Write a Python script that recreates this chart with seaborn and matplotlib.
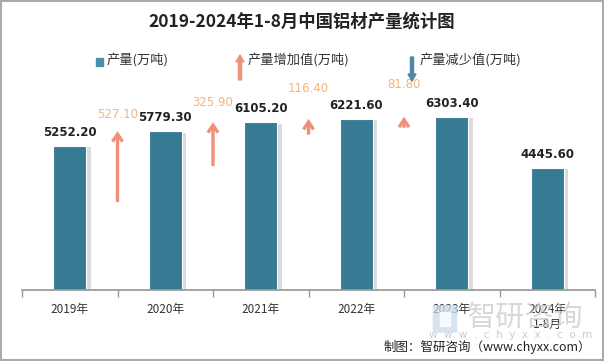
import matplotlib
matplotlib.use('Agg')
import matplotlib.pyplot as plt
import matplotlib.patheffects as pe
import numpy as np
import pandas as pd
import seaborn as sns

# Données du graphique
annees = ['2019年', '2020年', '2021年', '2022年', '2023年', '2024年\n1-8月']
production = [5252.20, 5779.30, 6105.20, 6221.60, 6303.40, 4445.60]
hausse = [527.10, 325.90, 116.40, 81.80]

sns.set_theme(style='white')
plt.rcParams['font.family'] = ['Noto Sans CJK SC', 'DejaVu Sans']

BAR = '#367b93'
UP = '#f0907a'
UP_TXT = '#f4b47a'
DOWN = '#4f88a6'
ARROW_SCALE = 4.9  # les flèches utilisent une échelle secondaire
decalage_etiquettes = [7.5, 9.5, 17.5, 18.5]  # points au-dessus des flèches

fig = plt.figure(figsize=(6.04, 3.61), dpi=100)
ax = fig.add_axes([22 / 604, 1 - 290 / 361, 573 / 604, 210 / 361])

df = pd.DataFrame({'annee': annees, 'production': production})
sns.barplot(data=df, x='annee', y='production', color=BAR, width=0.35,
            saturation=1, edgecolor='white', linewidth=0.8, ax=ax)
for p in ax.patches:
    p.set_path_effects([pe.SimplePatchShadow(offset=(3, -1), shadow_rgbFace='#999999',
                                             alpha=0.35), pe.Normal()])

ax.set_ylim(0, 7639)
ax.set_xlim(-0.5, len(annees) - 0.5)

# étiquettes des barres
for i, v in enumerate(production):
    ax.annotate(f'{v:.2f}', (i, v), xytext=(0, 5), textcoords='offset points',
                ha='center', va='bottom', fontsize=8.5, color='#222222',
                fontweight='bold', family='DejaVu Sans')

# flèches d'augmentation entre les barres
for i, d in enumerate(hausse):
    haut = production[i + 1]
    bas = haut - d * ARROW_SCALE
    ax.annotate('', xy=(i + 0.5, haut), xytext=(i + 0.5, bas),
                arrowprops=dict(arrowstyle='->,head_length=0.45,head_width=0.3',
                                color=UP, lw=2.4, shrinkA=0, shrinkB=0,
                                joinstyle='miter', capstyle='butt'),
                annotation_clip=False)
    ax.annotate(f'{d:.2f}', (i + 0.5, haut), xytext=(0, decalage_etiquettes[i]),
                textcoords='offset points', ha='center', va='bottom', fontsize=8.5,
                color=UP_TXT, family='DejaVu Sans', annotation_clip=False)

# axes
sns.despine(ax=ax, left=True)
ax.spines['bottom'].set_color('#999999')
ax.set_yticks([])
ax.set_xticks(np.arange(-0.5, len(annees), 1), minor=True)
ax.tick_params(axis='x', which='minor', length=5, color='#999999', direction='out', bottom=True)
ax.tick_params(axis='x', which='major', length=0, labelsize=8.5, labelcolor='#333333', pad=9)
ax.set_xlabel('')
ax.set_ylabel('')

# titre
fig.text(0.5, 1 - 22 / 361, '2019-2024年1-8月中国铝材产量统计图', ha='center', va='center',
         fontsize=12.5, fontweight='bold', color='#222222')

# légende
ly = 1 - 61 / 361
fig.patches.append(plt.Rectangle((96 / 604, 1 - 66 / 361), 7 / 604, 8 / 361,
                                 transform=fig.transFigure, color='#4a8fa8'))
fig.text(107 / 604, ly, '产量(万吨)', va='center', fontsize=9.5, color='#333333')
fig.patches.append(matplotlib.patches.FancyArrow(
    240 / 604, 1 - 80 / 361, 0, 25 / 361, width=3 / 604, head_width=8 / 604,
    head_length=7 / 361, length_includes_head=True, color=UP, transform=fig.transFigure))
fig.text(248 / 604, ly, '产量增加值(万吨)', va='center', fontsize=9.5, color='#333333')
fig.patches.append(matplotlib.patches.FancyArrow(
    412 / 604, 1 - 57 / 361, 0, -24 / 361, width=3 / 604, head_width=8 / 604,
    head_length=7 / 361, length_includes_head=True, color=DOWN, transform=fig.transFigure))
fig.text(420 / 604, ly, '产量减少值(万吨)', va='center', fontsize=9.5, color='#333333')

# filigrane et source
fig.text(467 / 604, 1 - 318 / 361, '智研咨询', ha='left', va='center', fontsize=21,
         color='#cccccc', alpha=0.75)
fig.patches.append(matplotlib.patches.FancyBboxPatch(
    (434 / 604, 1 - 332 / 361), 22 / 604, 26 / 361, boxstyle='round,pad=0.002',
    transform=fig.transFigure, facecolor='#c9dcee', edgecolor='none', alpha=0.75))
fig.patches.append(plt.Rectangle((440 / 604, 1 - 326 / 361), 10 / 604, 14 / 361,
                                 transform=fig.transFigure, facecolor='white', alpha=0.8))
fig.text(511 / 604, 1 - 335 / 361, 'w  w  w  .  c  h  y  x  x  .  c  o  m', ha='center',
         va='center', fontsize=7.5, color='#cccccc', family='DejaVu Sans')
fig.text(591 / 604, 1 - 347 / 361, '制图：智研咨询（www.chyxx.com）', ha='right', va='center',
         fontsize=9, color='#222222')

# cadre
fig.patches.append(plt.Rectangle((0.001, 0.002), 0.997, 0.996, transform=fig.transFigure,
                                 fill=False, edgecolor='#aaaaaa', linewidth=1.5))

fig.savefig('out.png', dpi=100)
